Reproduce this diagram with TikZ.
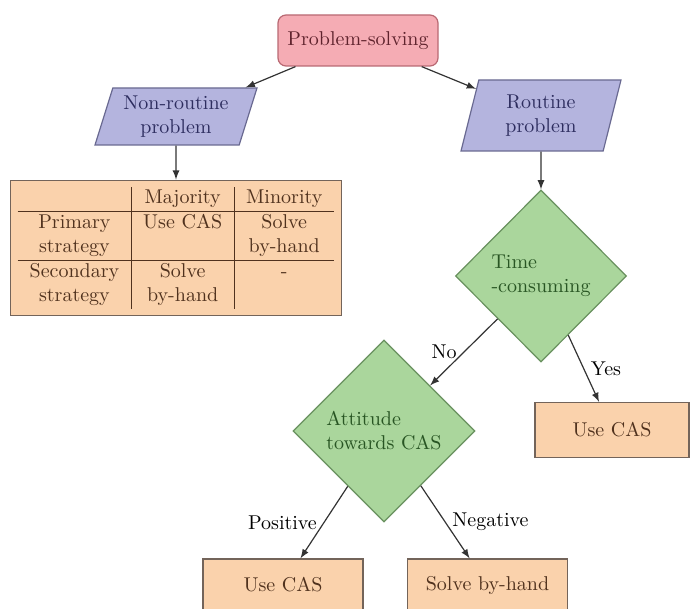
\documentclass[tikz,border=0pt]{standalone}
\usepackage{amsmath}
\usepackage{amssymb}
\usepackage{tikz}
\usetikzlibrary{shapes.geometric,arrows}

\definecolor{psfill}{RGB}{245,172,180}
\definecolor{psdraw}{RGB}{185,105,115}
\definecolor{pstext}{RGB}{95,35,45}
\definecolor{probfill}{RGB}{180,180,222}
\definecolor{probdraw}{RGB}{105,105,145}
\definecolor{probtext}{RGB}{45,45,95}
\definecolor{decfill}{RGB}{170,214,156}
\definecolor{decdraw}{RGB}{105,145,95}
\definecolor{dectext}{RGB}{40,85,35}
\definecolor{actfill}{RGB}{250,210,172}
\definecolor{actdraw}{RGB}{115,100,90}
\definecolor{acttext}{RGB}{80,50,30}

\begin{document}
\begin{tikzpicture}[x=0.5pt,y=-0.5pt]
    \tikzstyle{start}=[rectangle, rounded corners=4pt, draw=psdraw, fill=psfill, text=pstext, line width=0.6pt, minimum width=80pt, minimum height=25.5pt]
    \tikzstyle{problem}=[trapezium, trapezium left angle=72, trapezium right angle=108, trapezium stretches body, draw=probdraw, fill=probfill, text=probtext, line width=0.6pt, align=center]
    \tikzstyle{decision}=[diamond, draw=decdraw, fill=decfill, text=dectext, line width=0.6pt, align=left, inner sep=0pt]
    \tikzstyle{action}=[rectangle, draw=actdraw, fill=actfill, text=acttext, line width=0.6pt, minimum width=80pt, minimum height=27pt]
    \tikzstyle{line}=[draw=black!80, line width=0.6pt, -latex]
    \useasboundingbox (0,0) rectangle (691,609);
    \clip (0,0) rectangle (691,609);
    \node [start] (ps) at (358,40.5) {Problem-solving};
    \node [problem, minimum width=81pt, minimum height=28.5pt] (nr) at (176,116.5) {Non-routine\\problem};
    \node [problem, minimum width=80pt, minimum height=35.5pt] (ro) at (541,115.5) {Routine\\problem};
    \node [action, minimum width=0pt, minimum height=0pt, inner sep=3.5pt] (tab) at (176,248) {%
        \begin{tabular}{c|c|c}
             & Majority & Minority\\ \hline
            Primary & Use CAS & Solve\\
            strategy & & by-hand\\ \hline
            Secondary & Solve & -\\
            strategy & by-hand &
        \end{tabular}};
    \node [decision, minimum width=85.5pt, minimum height=86pt] (time) at (541,276) {Time\\-consuming};
    \node [decision, minimum width=91pt, minimum height=91pt] (att) at (384,431) {Attitude\\towards CAS};
    \node [action, minimum width=77pt, minimum height=27.5pt] (yescas) at (612,430) {Use CAS};
    \node [action, minimum height=26pt] (poscas) at (283,585) {Use CAS};
    \node [action, minimum height=26pt] (neghand) at (487.5,585) {Solve by-hand};
    \draw [line] (ps) -- (nr);
    \draw [line] (ps) -- (ro);
    \draw [line] (nr) -- (tab);
    \draw [line] (ro) -- (time);
    \draw [line] (time) -- node [midway, left] {No} (att);
    \draw [line] (time) -- node [midway, right] {Yes} (yescas);
    \draw [line] (att) -- node [midway, left] {Positive} (poscas);
    \draw [line] (att) -- node [midway, right] {Negative} (neghand);
\end{tikzpicture}
\end{document}
